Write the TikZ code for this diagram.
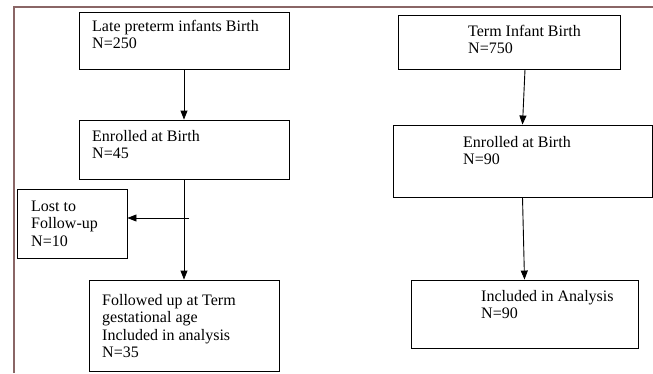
\documentclass[tikz,border=0pt]{standalone}
\usepackage{fontspec}
\setmainfont{Liberation Serif}
\usetikzlibrary{arrows.meta}
\definecolor{framebrown}{RGB}{138,102,102}

\begin{document}
\begin{tikzpicture}[x=1pt,y=-1pt,
  box/.style={draw, line width=0.9pt, inner sep=0pt},
  txt/.style={anchor=base west, inner sep=0pt, align=left, font=\fontsize{16}{17.5}\selectfont},
  flow/.style={line width=0.9pt, -{Triangle[length=9pt,width=7pt]}}]
\useasboundingbox (0,0) rectangle (653,373);
\draw[framebrown, line width=2pt] (14,373) -- (14,7) -- (653,7); % page frame
% Left column (text nodes sit on the baseline of their last line)
\node[box, minimum width=210pt, minimum height=57pt] (late) at (184,40.5) {};
\node[txt] (latet) at (92,48.5) {Late preterm infants Birth\\N=250};
\node[box, minimum width=210pt, minimum height=59pt] (enr1) at (184,149.5) {};
\node[txt] (enr1t) at (92,158.5) {Enrolled at Birth\\N=45};
\node[box, minimum width=110pt, minimum height=69pt] (lost) at (72,223.5) {};
\node[txt] (lostt) at (31,246) {Lost to\\Follow-up\\N=10};
\node[box, minimum width=190pt, minimum height=91pt] (fol) at (184,325.5) {};
\node[txt] (folt) at (102,357.5) {Followed up at Term\\gestational age\\Included in analysis\\N=35};
% Right column
\node[box, minimum width=222pt, minimum height=54pt] (term) at (509,42) {};
\node[txt] (termt) at (468,53.5) {Term Infant Birth\\N=750};
\node[box, minimum width=259pt, minimum height=72pt] (enr2) at (522.5,161) {};
\node[txt] (enr2t) at (463,164.5) {Enrolled at Birth\\N=90};
\node[box, minimum width=227pt, minimum height=68pt] (inc) at (524.5,314) {};
\node[txt] (inct) at (481,318.5) {Included in Analysis\\N=90};
% Arrows
\coordinate (split) at (189,218);
\draw[flow] (late.south) -- (enr1.north);
\draw[flow] (enr1.south) -- (fol.north);
\draw[flow] (split) -- (lost.east |- split); % lost branch
\draw[flow] ([xshift=16pt]term.south) -- (enr2.north);
\draw[flow] (enr2.south) -- (inc.north);
\end{tikzpicture}
\end{document}
